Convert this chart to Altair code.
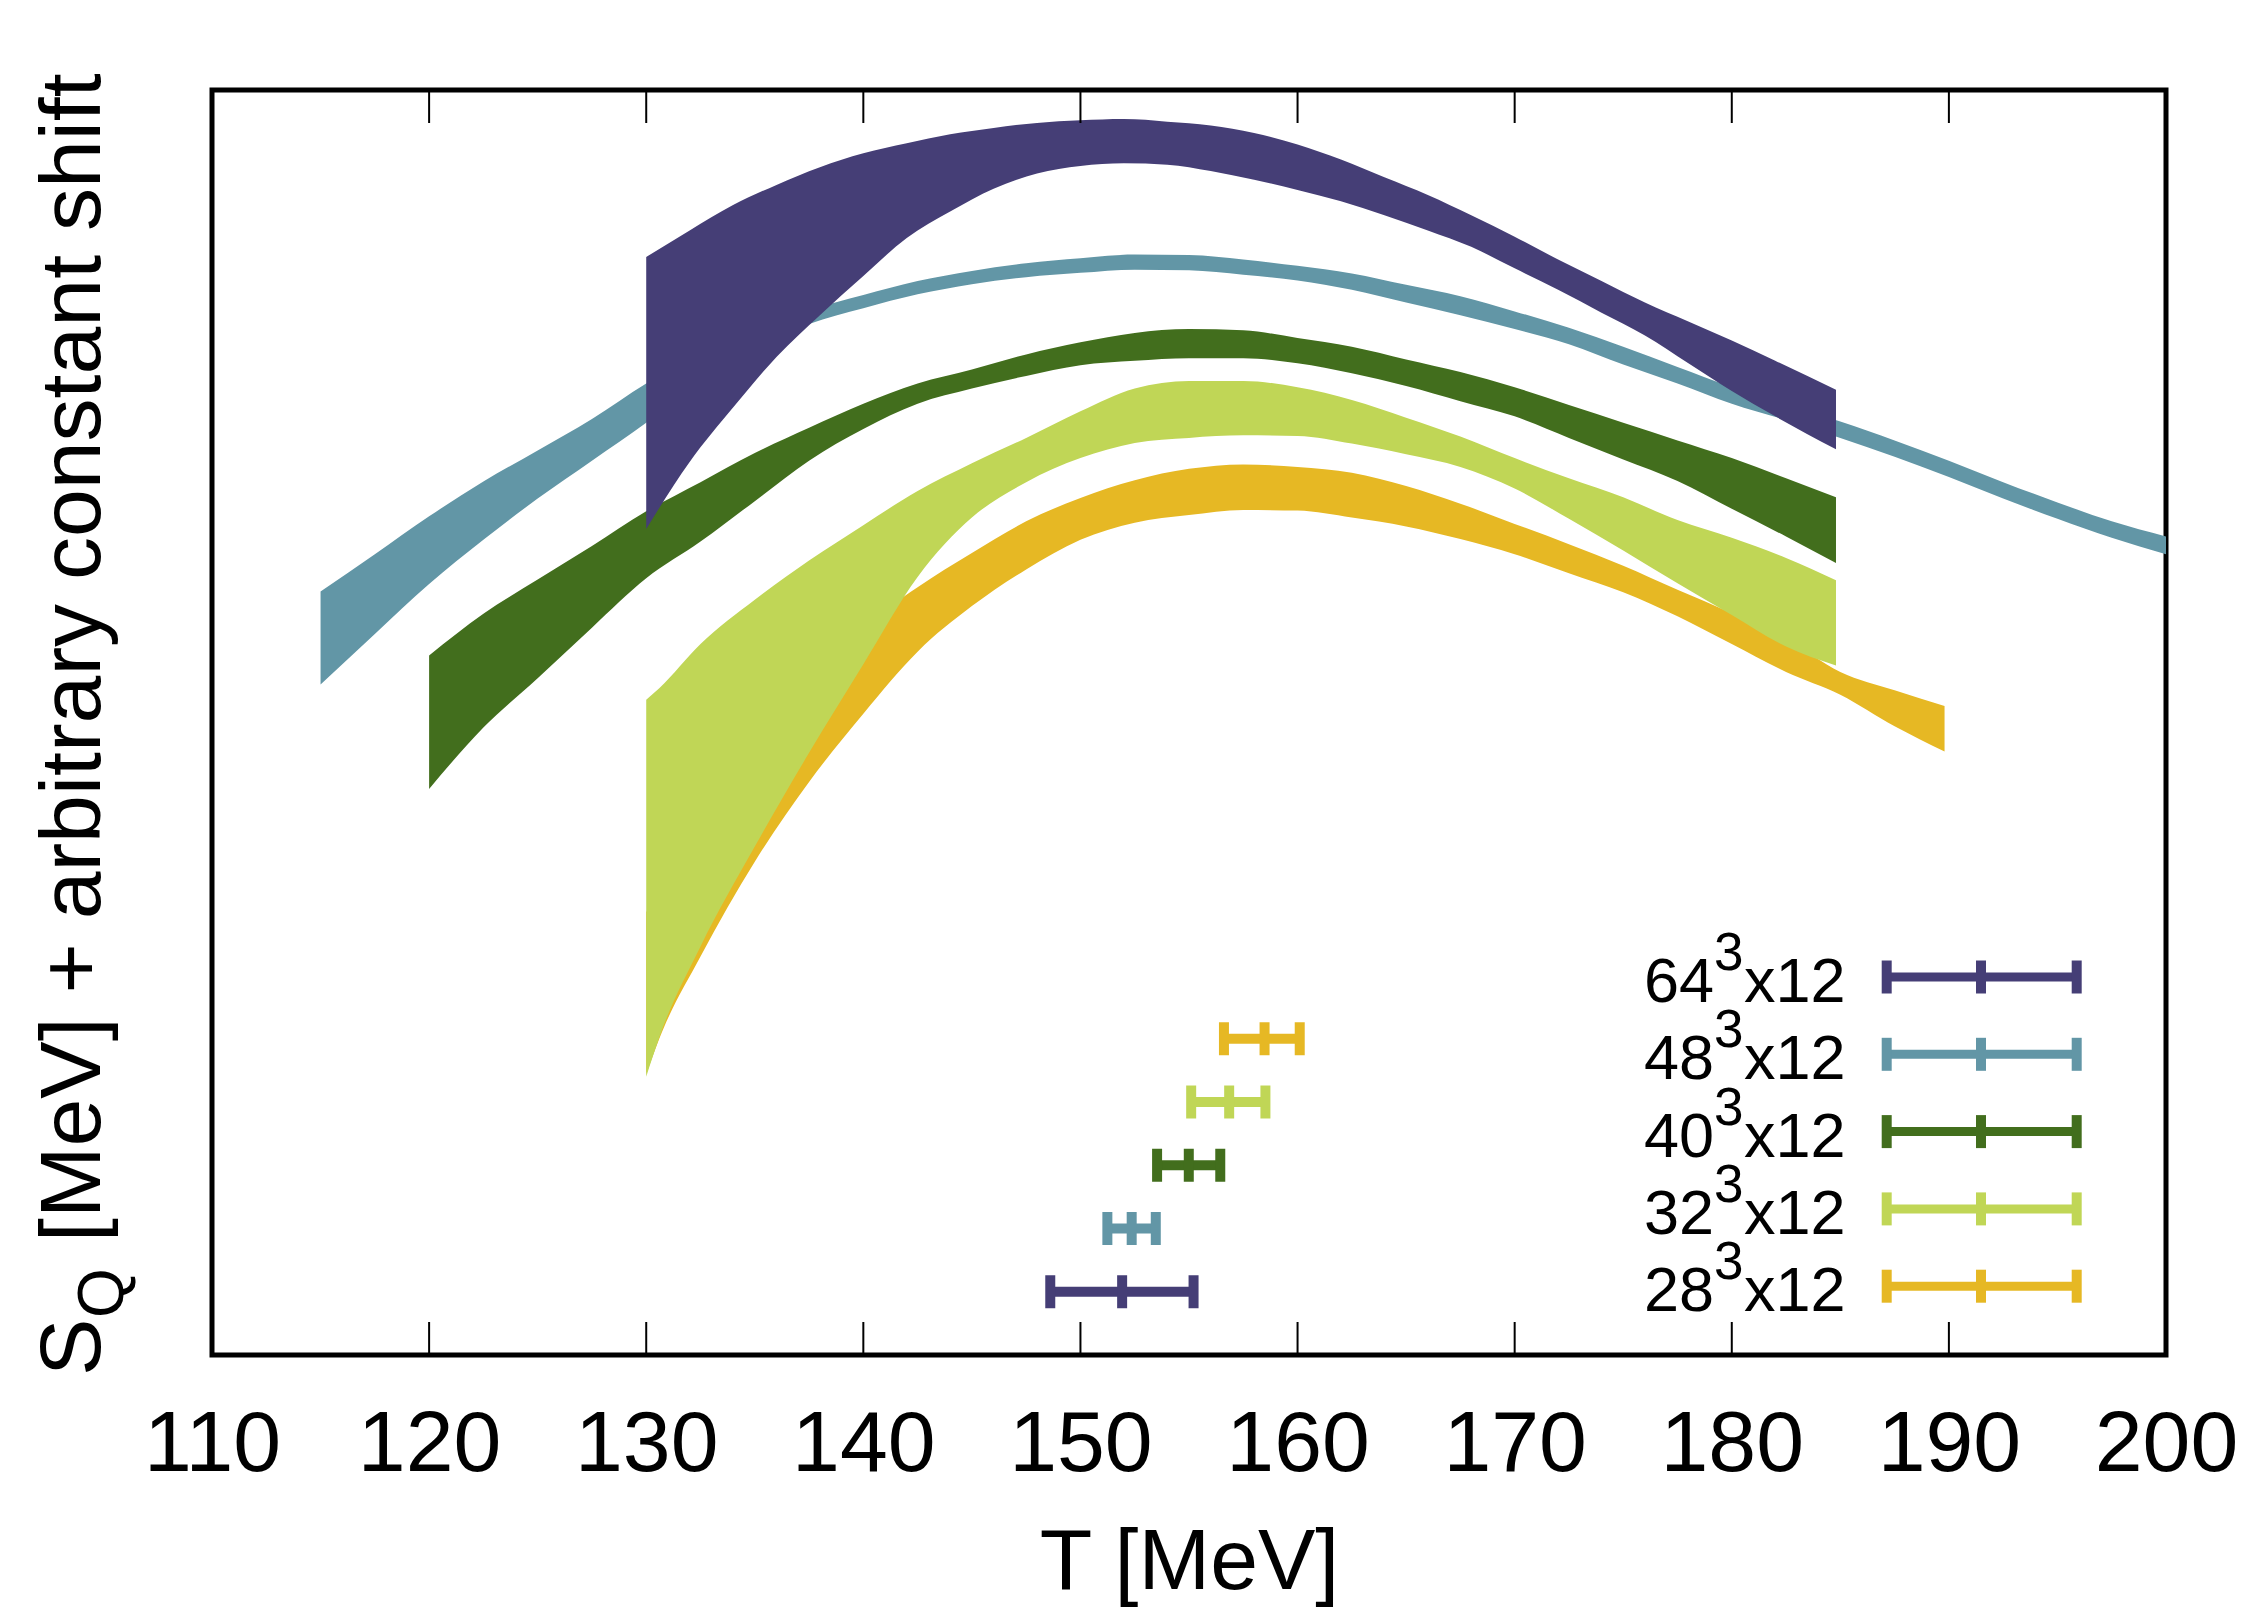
import altair as alt
import pandas as pd

# ---------------- data ----------------
# 64^3x12 band
T64 = [130, 132, 134, 136, 138, 140, 142, 144, 146, 148, 150, 152, 154, 156, 158, 160,
       162, 164, 166, 168, 170, 172, 174, 176, 178, 180, 182, 184.8]
HI64 = [86.8, 88.9, 90.9, 92.5, 93.9, 95.0, 95.8, 96.5, 97.0, 97.4, 97.6, 97.7, 97.5, 97.2,
        96.6, 95.7, 94.5, 93.1, 91.7, 90.1, 88.4, 86.6, 84.9, 83.2, 81.7, 80.2, 78.6, 76.3]
LO64 = [65.3, 70.6, 74.9, 78.9, 82.2, 85.3, 88.3, 90.4, 92.2, 93.4, 94.0, 94.2, 94.1, 93.6,
        92.9, 92.1, 91.2, 90.1, 88.9, 87.6, 85.9, 84.2, 82.4, 80.6, 78.4, 76.2, 74.2, 71.6]

# 48^3x12 band
T48 = [115, 117.5, 120, 122.5, 125, 127.5, 130, 132.5, 135, 137.5, 140, 142.5, 145, 147.5,
       150, 152.5, 155, 157.5, 160, 162.5, 165, 167.5, 170, 172.5, 175, 177.5, 180, 182.5,
       185, 187.5, 190, 192.5, 195, 197.5, 200]
HI48 = [60.35, 63.3, 66.3, 69.05, 71.5, 74.0, 76.8, 79.2, 81.0, 82.6, 83.8, 84.9, 85.7, 86.3,
        86.7, 87.0, 86.95, 86.6, 86.1, 85.5, 84.6, 83.7, 82.5, 81.2, 79.7, 78.1, 76.5, 75.1,
        73.8, 72.3, 70.7, 69.0, 67.4, 65.9, 64.7]
LO48 = [53.0, 57.0, 60.95, 64.45, 67.7, 70.7, 73.7, 77.1, 79.5, 81.5, 82.75, 83.85, 84.65, 85.2,
        85.55, 85.8, 85.75, 85.4, 84.95, 84.2, 83.2, 82.2, 81.1, 79.9, 78.3, 76.8, 75.2, 73.9,
        72.5, 71.0, 69.4, 67.7, 66.1, 64.6, 63.3]

# 40^3x12 band
T40 = [120, 122.5, 125, 127.5, 130, 132.5, 135, 137.5, 140, 142.5, 145, 147.5, 150, 152.5,
       155, 157.5, 160, 162.5, 165, 167.5, 170, 172.5, 175, 177.5, 180, 182.5, 184.8]
HI40 = [55.3, 58.6, 61.3, 63.95, 66.7, 69.0, 71.3, 73.3, 75.2, 76.8, 77.9, 79.1, 80.05, 80.8,
        81.1, 81.0, 80.4, 79.7, 78.7, 77.7, 76.5, 75.1, 73.7, 72.3, 70.9, 69.3, 67.8]
LO40 = [44.75, 49.6, 53.5, 57.5, 61.4, 64.3, 67.5, 70.7, 73.2, 75.2, 76.4, 77.4, 78.25, 78.6,
        78.8, 78.8, 78.4, 77.6, 76.6, 75.4, 74.2, 72.5, 70.8, 69.1, 66.9, 64.7, 62.6]

# 32^3x12 band
T32 = [130, 130.6, 132.5, 135, 137.5, 140, 142.5, 145, 147.5, 150, 152.5, 155, 157.5, 160,
       162.5, 165, 167.5, 170, 172.5, 175, 177.5, 180, 182.5, 184.8]
HI32 = [51.8, 52.7, 56.2, 59.7, 62.8, 65.6, 68.3, 70.5, 72.5, 74.6, 76.4, 77.0, 77.0, 76.5,
        75.5, 74.1, 72.6, 70.9, 69.3, 67.8, 66.0, 64.6, 63.0, 61.25]
LO32 = [22.0, 25.1, 32.3, 40.2, 47.6, 54.6, 61.5, 66.2, 69.0, 70.9, 72.1, 72.5, 72.7, 72.65,
        72.05, 71.2, 70.2, 68.5, 66.1, 63.6, 61.0, 58.5, 56.0, 54.5]

# 28^3x12 band
T28 = [130, 130.6, 132.5, 135, 137.5, 140, 142.5, 145, 147.5, 150, 152.5, 155, 157.5, 160,
       162.5, 165, 167.5, 170, 172.5, 175, 177.5, 180, 182.5, 185, 187.5, 189.8]
HI28 = [35.0, 37.0, 42.5, 48.5, 53.5, 57.6, 60.7, 63.4, 65.9, 67.75, 69.15, 70.05, 70.4, 70.2,
        69.75, 68.7, 67.3, 65.7, 64.1, 62.4, 60.5, 58.65, 56.6, 54.0, 52.55, 51.3]
LO28 = [22.2, 25.0, 31.5, 39.0, 45.3, 50.7, 55.6, 59.2, 62.1, 64.45, 65.8, 66.4, 66.8, 66.75,
        66.2, 65.5, 64.5, 63.3, 61.8, 60.3, 58.4, 56.2, 54.0, 52.2, 49.7, 47.7]

# pseudo-critical temperatures with errors (points at bottom)
EB_SERIES = ["64", "48", "40", "32", "28"]
EB_T = [151.92, 152.36, 154.99, 156.85, 158.48]
EB_LO = [148.61, 151.24, 153.53, 155.10, 156.61]
EB_HI = [155.21, 153.47, 156.44, 158.52, 160.10]
EB_Y = [5, 10, 15, 20, 25]

COLORS = ["#453e76", "#6296a6", "#426e1d", "#c0d656", "#e6b824"]
X_TICKS = [110, 120, 130, 140, 150, 160, 170, 180, 190, 200]
INNER_TICKS = [120, 130, 140, 150, 160, 170, 180, 190]

# ---------------- chart ----------------
W, H = 1954, 1265
FONT = "Liberation Sans"

xscale = alt.Scale(domain=[110, 200], nice=False, zero=False)
yscale = alt.Scale(domain=[0, 100], nice=False, zero=False)
xaxis = alt.Axis(values=X_TICKS, format="d", labelFontSize=86, labelFont=FONT,
                 labelColor="black", ticks=False, tickSize=0, domain=False, grid=False,
                 labelPadding=47, labelFlush=False, labelOverlap=False,
                 title="T [MeV]", titleFontSize=86, titleFont=FONT, titleFontWeight="normal",
                 titleColor="black", titleBaseline="alphabetic", titleY=233)


def band(T, lo, hi, color):
    df = pd.DataFrame({"T": T, "lo": lo, "hi": hi})
    return alt.Chart(df).mark_area(color=color, opacity=1, interpolate="monotone").encode(
        x=alt.X("T:Q", scale=xscale, axis=xaxis),
        y=alt.Y("lo:Q", scale=yscale, axis=None),
        y2="hi:Q",
    )


bands = [
    band(T28, LO28, HI28, COLORS[4]),
    band(T32, LO32, HI32, COLORS[3]),
    band(T40, LO40, HI40, COLORS[2]),
    band(T48, LO48, HI48, COLORS[1]),
    band(T64, LO64, HI64, COLORS[0]),
]

color_scale = alt.Scale(domain=EB_SERIES, range=COLORS)
eb_df = pd.DataFrame({"s": EB_SERIES, "T": EB_T, "lo": EB_LO, "hi": EB_HI, "y": EB_Y})
eb_line = alt.Chart(eb_df).mark_rule(strokeWidth=10, strokeCap="butt").encode(
    x=alt.X("lo:Q", scale=xscale, axis=xaxis),
    x2="hi:Q",
    y=alt.Y("y:Q", scale=yscale, axis=None),
    color=alt.Color("s:N", scale=color_scale, legend=None),
)
eb_caps = alt.Chart(eb_df).transform_fold(["lo", "hi", "T"], as_=["k", "xv"]).mark_tick(
    orient="vertical", size=33, thickness=10, opacity=1
).encode(
    x=alt.X("xv:Q", scale=xscale, axis=xaxis),
    y=alt.Y("y:Q", scale=yscale, axis=None),
    color=alt.Color("s:N", scale=color_scale, legend=None),
)

# inward ticks (gnuplot style) on bottom and top borders
tick_df = pd.DataFrame({"t": INNER_TICKS})
ticks_bottom = alt.Chart(tick_df).mark_rule(color="black", strokeWidth=2).encode(
    x=alt.X("t:Q", scale=xscale, axis=xaxis), y=alt.value(H), y2=alt.value(H - 33))
ticks_top = alt.Chart(tick_df).mark_rule(color="black", strokeWidth=2).encode(
    x=alt.X("t:Q", scale=xscale, axis=xaxis), y=alt.value(0), y2=alt.value(33))

# legend (inside the plot, lower right)
LEG_Y0, LEG_DY = 912, 77.3
leg_rows = []
for i, s in enumerate(EB_SERIES):
    base = LEG_Y0 + i * LEG_DY
    leg_rows.append({"s": s, "yb": base, "ys": base - 32, "yl": base - 25,
                     "x1": 1674.7, "x2": 1864.7, "xc": 1769.0})
leg_df = pd.DataFrame(leg_rows)

leg_base = alt.Chart(leg_df).mark_text(align="left", baseline="alphabetic", fontSize=63,
                                      font=FONT, color="black").encode(
    x=alt.value(1432), y=alt.Y("yb:Q", scale=None), text="s:N")
leg_sup = alt.Chart(leg_df).mark_text(align="left", baseline="alphabetic", fontSize=53,
                                     font=FONT, color="black", text="3").encode(
    x=alt.value(1502), y=alt.Y("ys:Q", scale=None))
leg_suf = alt.Chart(leg_df).mark_text(align="left", baseline="alphabetic", fontSize=63,
                                     font=FONT, color="black", text="x12").encode(
    x=alt.value(1532), y=alt.Y("yb:Q", scale=None))
leg_line = alt.Chart(leg_df).mark_rule(strokeWidth=9, strokeCap="butt").encode(
    x=alt.X("x1:Q", scale=None), x2="x2:Q", y=alt.Y("yl:Q", scale=None),
    color=alt.Color("s:N", scale=color_scale, legend=None))
leg_caps = alt.Chart(leg_df).transform_fold(["x1", "x2", "xc"], as_=["k", "xv"]).mark_tick(
    orient="vertical", size=33, thickness=10, opacity=1
).encode(
    x=alt.X("xv:Q", scale=None), y=alt.Y("yl:Q", scale=None),
    color=alt.Color("s:N", scale=color_scale, legend=None))

# y-axis title with subscript Q, built from text pieces
one = pd.DataFrame({"a": [0]})
ytitle_S = alt.Chart(one).mark_text(text="S", angle=270, align="left", baseline="alphabetic",
                                    fontSize=86, font=FONT, color="black").encode(
    x=alt.value(-112), y=alt.value(1286))
ytitle_Q = alt.Chart(one).mark_text(text="Q", angle=270, align="left", baseline="alphabetic",
                                    fontSize=64, font=FONT, color="black").encode(
    x=alt.value(-89), y=alt.value(1228))
ytitle_rest = alt.Chart(one).mark_text(text="[MeV] + arbitrary constant shift", angle=270,
                                       align="left", baseline="alphabetic", fontSize=86,
                                       font=FONT, color="black").encode(
    x=alt.value(-112), y=alt.value(1152))

chart = alt.layer(
    *bands, eb_line, eb_caps, ticks_bottom, ticks_top,
    leg_line, leg_caps, leg_base, leg_sup, leg_suf,
    ytitle_S, ytitle_Q, ytitle_rest,
).properties(
    width=W, height=H,
    autosize=alt.AutoSizeParams(type="none"),
    padding={"left": 204, "top": 82, "right": 90, "bottom": 253},
    background="white",
).configure(font=FONT).configure_view(stroke="black", strokeWidth=5)

chart.save("out.html", embed_options={"renderer": "svg", "actions": False})
